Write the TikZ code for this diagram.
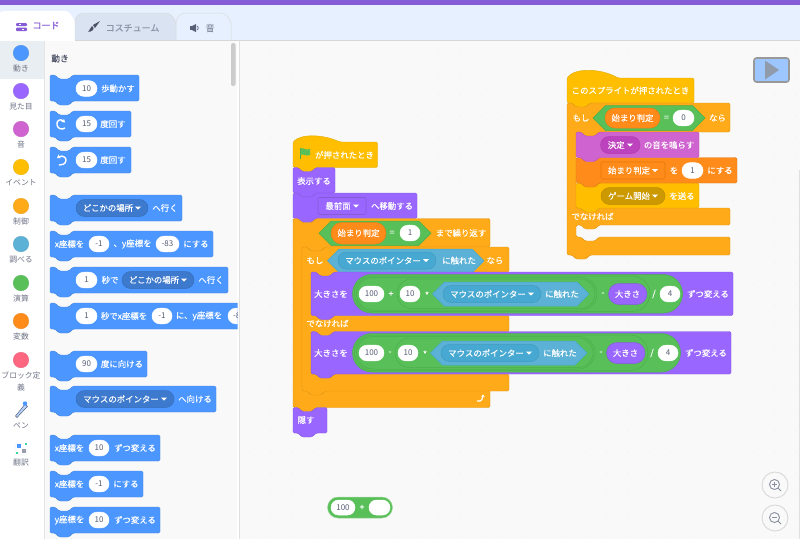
\documentclass[tikz,border=0pt]{standalone}
\usepackage{fontspec}
\setmainfont{Noto Sans CJK JP}
\newfontfamily\medf[FakeBold=0.25]{Noto Sans CJK JP}
\usetikzlibrary{arrows.meta}
\definecolor{mot}{HTML}{4C97FF}
\definecolor{motd}{HTML}{3D79CC}
\definecolor{loo}{HTML}{9966FF}
\definecolor{lood}{HTML}{855CD6}
\definecolor{snd}{HTML}{CF63CF}
\definecolor{sndd}{HTML}{BD42BD}
\definecolor{evt}{HTML}{FFBF00}
\definecolor{evtd}{HTML}{CC9900}
\definecolor{ctl}{HTML}{FFAB19}
\definecolor{sen}{HTML}{5CB1D6}
\definecolor{send}{HTML}{47A8D1}
\definecolor{opr}{HTML}{59C059}
\definecolor{oprd}{HTML}{4AAE4A}
\definecolor{var}{HTML}{FF8C1A}
\definecolor{vard}{HTML}{DB6E00}
\definecolor{myb}{HTML}{FF6680}
\definecolor{wsbg}{HTML}{F9F9F9}
\definecolor{ink}{HTML}{575E75}
\definecolor{cat}{HTML}{6F7486}
\definecolor{tabbg}{HTML}{E6F0FF}
\definecolor{tabc}{HTML}{D9E3F2}
\definecolor{tabt}{HTML}{8A94A6}
\definecolor{sel}{HTML}{E9EEF2}
\definecolor{tribg}{HTML}{8F9BAB}
\tikzset{
  lab/.style={text=white,inner sep=0pt,font=\medf\fontsize{8.4}{10}\selectfont},
  numtxt/.style={text=ink,inner sep=0pt,font=\fontsize{8}{10}\selectfont},
  catlab/.style={text=cat,inner sep=0pt,font=\fontsize{7.8}{9}\selectfont},
  tabtxt/.style={inner sep=0pt,font=\medf\fontsize{9}{11}\selectfont},
}
\newcount\nc
\newcommand\nx{\global\advance\nc by 1 }
% text
\newcommand\tx[3]{\nx\node[lab] (n\the\nc) at (#1,#2) {#3};}
\newcommand\ctx[3]{\nx\node[catlab] (n\the\nc) at (#1,#2) {#3};}
% stack block
\newcommand\stk[5]{\filldraw[fill=#1,draw=#1!88!black,line width=.4pt,rounded corners=1.5pt]
 (#2,#3) -- ({#2+5},#3) -- ({#2+9},{#3+4}) -- ({#2+19},{#3+4}) -- ({#2+23},#3) -- (#4,#3) -- (#4,#5)
 -- ({#2+23},#5) -- ({#2+19},{#5+4}) -- ({#2+9},{#5+4}) -- ({#2+5},#5) -- (#2,#5) -- cycle;}
% hat block: colour,x0,ytop,xhump,ybody,x1,y1
\newcommand\hatb[7]{\filldraw[fill=#1,draw=#1!88!black,line width=.4pt,rounded corners=1.5pt]
 (#2,#5) .. controls ({#2+8},#3) and ({#4-18},#3) .. (#4,#5) -- (#6,#5) -- (#6,#7)
 -- ({#2+23},#7) -- ({#2+19},{#7+4}) -- ({#2+9},{#7+4}) -- ({#2+5},#7) -- (#2,#7) -- cycle;}
% C block one arm: colour,x0,y0,x1,yh,xa,yb,ye
\newcommand\cone[8]{\filldraw[fill=#1,draw=#1!88!black,line width=.4pt,rounded corners=1.5pt]
 (#2,#3) -- ({#2+5},#3) -- ({#2+9},{#3+4}) -- ({#2+19},{#3+4}) -- ({#2+23},#3) -- (#4,#3) -- (#4,#5)
 -- ({#6+23},#5) -- ({#6+19},{#5+4}) -- ({#6+9},{#5+4}) -- ({#6+5},#5) -- (#6,#5) -- (#6,#7)
 -- ({#6+5},#7) -- ({#6+9},{#7+4}) -- ({#6+19},{#7+4}) -- ({#6+23},#7) -- (#4,#7) -- (#4,#8)
 -- ({#2+23},#8) -- ({#2+19},{#8+4}) -- ({#2+9},{#8+4}) -- ({#2+5},#8) -- (#2,#8) -- cycle;}
% C block two arms: colour,x0,y0,x1,yh,xa,ym,yn,yb then {ye}
\newcommand\ctwo[9]{\def\aA{#1}\def\aB{#2}\def\aC{#3}\def\aD{#4}\def\aE{#5}\def\aF{#6}\def\aG{#7}\def\aH{#8}\def\aI{#9}\ctwoy}
\newcommand\ctwoy[1]{\filldraw[fill=\aA,draw=\aA!88!black,line width=.4pt,rounded corners=1.5pt]
 (\aB,\aC) -- ({\aB+5},\aC) -- ({\aB+9},{\aC+4}) -- ({\aB+19},{\aC+4}) -- ({\aB+23},\aC) -- (\aD,\aC) -- (\aD,\aE)
 -- ({\aF+23},\aE) -- ({\aF+19},{\aE+4}) -- ({\aF+9},{\aE+4}) -- ({\aF+5},\aE) -- (\aF,\aE) -- (\aF,\aG)
 -- ({\aF+5},\aG) -- (\aD,\aG) -- (\aD,\aH)
 -- ({\aF+23},\aH) -- ({\aF+19},{\aH+4}) -- ({\aF+9},{\aH+4}) -- ({\aF+5},\aH) -- (\aF,\aH) -- (\aF,\aI)
 -- ({\aF+5},\aI) -- ({\aF+9},{\aI+4}) -- ({\aF+19},{\aI+4}) -- ({\aF+23},\aI) -- (\aD,\aI) -- (\aD,#1)
 -- ({\aB+23},#1) -- ({\aB+19},{#1+4}) -- ({\aB+9},{#1+4}) -- ({\aB+5},#1) -- (\aB,#1) -- cycle;}
% pill: fill,draw,x0,x1,y0,y1
\newcommand\pill[6]{\pgfmathsetmacro\rr{((#6)-(#5))/2-0.02}
 \filldraw[fill=#1,draw=#2,line width=.5pt,rounded corners=\rr pt] (#3,{#5}) rectangle (#4,{#6});}
% hexagon: fill,draw,x0,x1,y0,y1
\newcommand\hexa[6]{\pgfmathsetmacro\rr{((#6)-(#5))/2}
 \filldraw[fill=#1,draw=#2,line width=.5pt] (#3,{#5+\rr}) -- ({#3+\rr},#5) -- ({#4-\rr},#5) -- (#4,{#5+\rr}) -- ({#4-\rr},#6) -- ({#3+\rr},#6) -- cycle;}
% number pill: x0,x1,yc,text
\newcommand\num[4]{\pill{white}{white}{#1}{#2}{#3-7.8}{#3+7.8}\nx\node[numtxt] (n\the\nc) at ({(#1+#2)/2},#3) {#4};}
% triangle
\newcommand\tri[2]{\fill[white] ({#1-3},{#2-1.5}) -- ({#1+3},{#2-1.5}) -- (#1,{#2+1.7}) -- cycle;}
% dropdown pill: fill,x0,x1,yc,text
\newcommand\ddp[5]{\pill{#1}{#1!92!black}{#2}{#3}{#4-8.5}{#4+8.5}\nx\node[lab] (n\the\nc) at ({(#2+#3)/2-4},#4) {#5};\tri{#3-10}{#4}}
% square dropdown
\newcommand\dds[6]{\filldraw[fill=#1,draw=#2,line width=.6pt,rounded corners=1.5pt] (#3,{#5-8.5}) rectangle (#4,{#5+8.5});\nx\node[lab] (n\the\nc) at ({(#3+#4)/2-4},#5) {#6};\tri{#4-10}{#5}}
\begin{document}
\begin{tikzpicture}[x=1pt,y=-1pt]
\useasboundingbox (0,0) rectangle (800,539);
% page background
\fill[wsbg] (0,0) rectangle (800,539);
% workspace dots
\foreach \i in {0,...,26}{\foreach \j in {0,...,24}{
  \fill[black!7] ({250+21*\i},{32+21*\j}) circle (.6);}}
% tabs band
\fill[tabbg] (0,5) rectangle (800,40);
\fill[lood] (0,0) rectangle (800,5.3);
\filldraw[fill=white,draw=white] (0,40) -- (0,14) to[out=90,in=180] (6,11) -- (64,11) to[out=0,in=120] (75,22) -- (75,40) -- cycle;
\filldraw[fill=tabc,draw=black!14,line width=.5pt] (75,40) -- (75,22) to[out=90,in=180] (84,13) -- (165,13) to[out=0,in=100] (176,24) -- (176,40);
\filldraw[fill=tabbg,draw=black!14,line width=.5pt] (176,40) -- (176,22) to[out=80,in=180] (186,13) -- (220,13) to[out=0,in=100] (231,24) -- (231,40);
\draw[black!16,line width=.6pt] (0,40.5) -- (800,40.5);
\fill[white] (0,39) rectangle (75,41);
% code tab
\fill[lood,rounded corners=1pt] (16,23) rectangle (27,26);
\fill[lood,rounded corners=1pt] (16,27.5) rectangle (27,31);
\fill[white] (19,24) rectangle (21,25);\fill[white] (22,28.5) rectangle (24,30);
\nx\node[tabtxt,text=lood] (n\the\nc) at (46,25.5) {コード};
% costume icon
\fill[ink!85!black] (93,25) -- (100,21) -- (95,28) -- cycle;
\fill[ink!85!black] (92,26) .. controls (94,27) and (94,29) .. (93,30) .. controls (91,32) and (89,32) .. (88,31.5) .. controls (90,31) and (90,27) .. (92,26);
\nx\node[tabtxt,text=tabt] (n\the\nc) at (132.5,28) {コスチューム};
% sound icon
\fill[ink] (189.5,26) rectangle (192,30);\fill[ink] (192,26) -- (196,24) -- (196,32) -- (192,30) -- cycle;
\draw[ink,line width=.7pt] (197.5,26) .. controls (198.5,27) and (198.5,29) .. (197.5,30);
\nx\node[tabtxt,text=tabt] (n\the\nc) at (210,28) {音};
% category panel
\fill[white] (0,41) rectangle (44.5,539);
\fill[sel] (0,41) rectangle (44,79);
\draw[black!10,line width=.6pt] (44.5,41) -- (44.5,539);
\draw[black!12,line width=.6pt] (239,41) -- (239,539);
\fill[white] (237,41) rectangle (238.7,539);
\foreach \yy/\cc/\tt in {53/mot/動き,91/loo/見た目,129/snd/音,167/evt/イベント,206/ctl/制御,244/sen/調べる,283/opr/演算,321/var/変数}{
 \filldraw[fill=\cc,draw=\cc!90!black,line width=.3pt] (21,\yy) circle (7.8);
 \nx\node[catlab] (n\the\nc) at (21,{\yy+15.5}) {\tt};}
\filldraw[fill=myb,draw=myb!90!black,line width=.3pt] (21,360) circle (7.8);
\ctx{21}{375}{ブロック定}
\ctx{21}{387.5}{義}
\ctx{21}{426}{ペン}
\ctx{21}{463}{翻訳}
% pen icon
\filldraw[fill=mot!40!white,draw=ink,line width=.5pt] (22,408) -- (25,404) -- (27.5,406.5) -- (24,410) -- (17,417.5) -- (15.5,416) -- cycle;
\fill[mot] (25,403.5) circle (2.2);
% translate icon
\filldraw[fill=white,draw=black!10,line width=.3pt,rounded corners=1pt] (15,444) rectangle (27,455);
\fill[mot] (17,443.5) rectangle (21,447.5);
\fill[ink!60!white] (22,449) rectangle (26,453);
\fill[opr!60!cyan] (24.5,442.5) rectangle (26.5,444.5);
\fill[opr!60!cyan] (15.5,452) rectangle (17.5,454);
% palette blocks
\begin{scope}
\clip (45,41) rectangle (237.5,539);
\nx\node[inner sep=0pt,text=ink!85!black,font=\medf\fontsize{8.6}{10}\selectfont] (n\the\nc) at (60,58.5) {動き};
\stk{mot}{50}{75}{139}{101}\num{76}{97}{88.5}{10}\tx{118}{88.5}{歩動かす}
\stk{mot}{50}{111}{131}{137}\num{76}{97}{124}{15}\tx{113}{124}{度回す}
\draw[white,line width=1.4pt,{Stealth[length=3.5pt,width=4.5pt]}-] (65,122.5) .. controls (60,118) and (56,121) .. (57,125) .. controls (58,129) and (62,130) .. (65,128);
\stk{mot}{50}{147}{131}{173}\num{76}{97}{160}{15}\tx{113}{160}{度回す}
\draw[white,line width=1.4pt,{Stealth[length=3.5pt,width=4.5pt]}-] (57,158) .. controls (62,155) and (66.5,157) .. (66,160.5) .. controls (65.5,164) and (62,165.5) .. (59,165);
\stk{mot}{50}{195}{182}{221}\ddp{motd}{76}{148}{208}{どこかの場所}\tx{165}{208}{へ行く}
\stk{mot}{50}{231}{213}{257}\tx{69.5}{244}{x座標を}\num{89}{109}{244}{-1}\tx{132.5}{244}{、y座標を}\num{156}{179}{244}{-83}\tx{196}{244}{にする}
\stk{mot}{50}{267}{228}{293}\num{76}{97}{280}{1}\tx{110}{280}{秒で}\ddp{motd}{122}{194}{280}{どこかの場所}\tx{211}{280}{へ行く}
\stk{mot}{50}{303}{260}{329}\num{76}{97}{316}{1}\tx{124}{316}{秒でx座標を}\num{152}{172}{316}{-1}\tx{199}{316}{に、y座標を}\num{228}{250}{316}{-83}
\stk{mot}{50}{351}{147}{377}\num{76}{97}{364}{90}\tx{122}{364}{度に向ける}
\stk{mot}{50}{386}{216}{412}\ddp{motd}{76}{174}{399}{マウスのポインター}\tx{195}{399}{へ向ける}
\stk{mot}{50}{435}{160}{461}\tx{69.5}{448}{x座標を}\num{89}{109}{448}{10}\tx{135}{448}{ずつ変える}
\stk{mot}{50}{471}{143}{497}\tx{69.5}{484}{x座標を}\num{89}{109}{484}{-1}\tx{126}{484}{にする}
\stk{mot}{50}{507}{160}{533}\tx{69.5}{520}{y座標を}\num{89}{109}{520}{10}\tx{135}{520}{ずつ変える}
\end{scope}
\fill[black!20,rounded corners=2pt] (231,43) rectangle (235.5,86);
% script 1
\hatb{evt}{293}{134}{340}{142}{377.5}{167.5}
\fill[oprd] (299.5,148) rectangle (300.6,159);
\fill[opr] (300.5,148.5) .. controls (303,147) and (306,151) .. (310,149) -- (310,155) .. controls (306,157) and (303,153) .. (300.5,155) -- cycle;
\tx{344.5}{155}{が押されたとき}
\stk{loo}{293}{167.5}{335}{193}\tx{314}{181}{表示する}
\stk{loo}{293}{193}{417}{218.5}
\dds{loo}{lood}{318}{366}{206}{最前面}\tx{392}{206}{へ移動する}
\cone{ctl}{293}{218.5}{490}{247}{302}{390}{407.5}
\hexa{opr}{oprd}{319}{431}{221}{245.5}
\pill{var}{vard!50!var}{331}{386}{222.5}{244}
\tx{358.5}{233}{始まり判定}
\tx{392}{233}{=}
\num{400}{420}{233}{1}
\tx{461}{233}{まで繰り返す}
\ctwo{ctl}{302}{247}{509}{272}{311}{315.5}{331.5}{374}{391}
\tx{315}{260.5}{もし}
\hexa{sen}{send}{327.5}{484}{249}{272.5}
\ddp{send}{338}{436}{260.5}{マウスのポインター}
\tx{459}{260.5}{に触れた}
\tx{495}{260.5}{なら}
\tx{327.5}{323.5}{でなければ}
% arrow in repeat
\draw[white,line width=1.2pt,-{Stealth[length=2.5pt,width=3.5pt]}] (477,401) .. controls (482,402) and (483,398) .. (483,394.5);
% set size row 1
\stk{loo}{311}{272}{733}{315.5}
\tx{331}{294}{大きさを}
\pill{opr}{oprd}{352.5}{682.5}{274.5}{313}
\pill{opr}{oprd}{354.5}{650}{276}{311.5}
\pill{opr}{oprd}{356.5}{597}{277.5}{310}
\pill{opr}{oprd}{397}{595}{279}{308.5}
\num{359}{384}{294}{100}
\tx{391}{294}{+}
\num{400}{420}{294}{10}
\tx{427}{295}{*}
\hexa{sen}{send}{432.5}{589}{282}{306}
\ddp{send}{443}{541}{294}{マウスのポインター}
\tx{562}{294}{に触れた}
\tx{603}{294}{-}
\pill{loo}{lood}{608.5}{647}{283.5}{304.5}
\tx{627.5}{294}{大きさ}
\tx{654}{294}{/}
\num{660}{680}{294}{4}
\tx{708}{294}{ずつ変える}
% set size row 2
\stk{loo}{311}{331.5}{731}{374}
\tx{331}{353}{大きさを}
\pill{opr}{oprd}{352.5}{680.5}{333.5}{372}
\pill{opr}{oprd}{354.5}{648}{335}{370.5}
\pill{opr}{oprd}{356.5}{595}{336.5}{369}
\pill{opr}{oprd}{395}{593}{338}{367.5}
\num{359}{384}{353}{100}
\tx{390}{353}{-}
\num{398}{418}{353}{10}
\tx{425}{354}{*}
\hexa{sen}{send}{430.5}{587}{341}{365}
\ddp{send}{441}{539}{353}{マウスのポインター}
\tx{560}{353}{に触れた}
\tx{601}{353}{-}
\pill{loo}{lood}{606.5}{645}{342.5}{363.5}
\tx{625.5}{353}{大きさ}
\tx{652}{353}{/}
\num{658}{678}{353}{4}
\tx{706}{353}{ずつ変える}
\stk{loo}{293}{407.5}{327}{433}\tx{306}{420}{隠す}
% script 2
\hatb{evt}{567}{68}{618}{78}{694}{103}
\tx{630.5}{90.5}{このスプライトが押されたとき}
\ctwo{ctl}{567}{103}{730}{132}{576}{208}{225}{237}{255}
\tx{581}{118}{もし}
\hexa{opr}{oprd}{593}{705}{105.5}{130.5}
\pill{var}{vard!50!var}{605}{660}{108}{128}
\tx{632.5}{118}{始まり判定}
\tx{666.5}{118}{=}
\num{673}{694}{118}{0}
\tx{717.5}{118}{なら}
\stk{evt}{576}{183}{699}{208}
\ddp{evtd}{601}{665}{196}{ゲーム開始}
\tx{682}{196}{を送る}
\stk{var}{576}{157.5}{737}{183}
\dds{var}{vard!70!var}{601}{665}{170.5}{始まり判定}
\tx{674}{170.5}{を}
\num{682}{703}{170.5}{1}
\tx{720}{170.5}{にする}
\stk{snd}{576}{132}{699}{157.5}
\ddp{sndd}{600.5}{640}{145}{決定}
\tx{669}{145}{の音を鳴らす}
\tx{592.5}{216.5}{でなければ}
% loose reporter
\pill{opr}{oprd!50!white}{327.5}{392.5}{497}{518}
\pill{white}{white}{331}{355}{500}{515}
\nx\node[numtxt] (n\the\nc) at (343,507.5) {100};
\tx{362}{507.5}{+}
\pill{white}{white}{369}{390}{500}{515}
% play button
\filldraw[fill=mot!55!white,draw=black!40,line width=1.6pt,rounded corners=2.5pt] (754,58) rectangle (789,82);
\fill[tribg] (765,60.5) -- (779,70) -- (765,79.5) -- cycle;
% zoom buttons
\foreach \zy/\kk in {485/1,518/0}{
 \filldraw[fill=wsbg,draw=black!14,line width=1pt] (775,\zy) circle (13);
 \draw[ink!70!white,line width=.9pt] (774.5,{\zy-.5}) circle (5);
 \draw[ink!70!white,line width=1pt] (778,{\zy+3}) -- (781,{\zy+6});
 \draw[ink!70!white,line width=.7pt] (772,{\zy-.5}) -- (777,{\zy-.5});
 \ifnum\kk=1 \draw[ink!70!white,line width=.7pt] (774.5,{\zy-3}) -- (774.5,{\zy+2});\fi
}
\draw[black!12,line width=.5pt] (799.5,170) -- (799.5,539);
\end{tikzpicture}
\end{document}
